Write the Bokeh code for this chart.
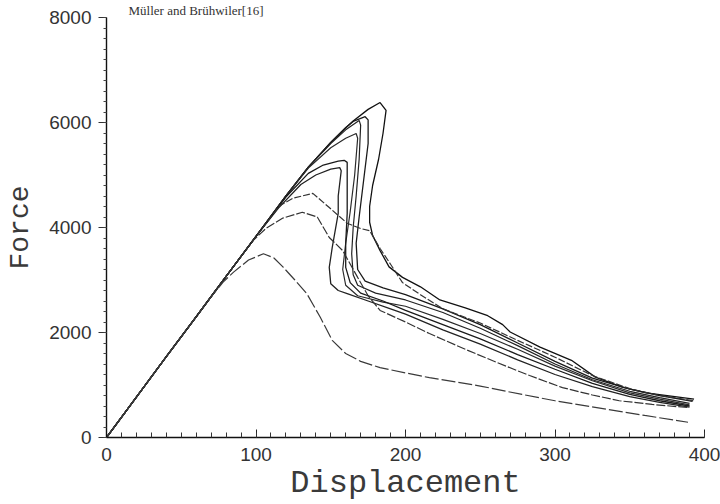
from bokeh.plotting import figure
from bokeh.models import Range1d, FixedTicker
from bokeh.embed import file_html
from bokeh.resources import INLINE

# ---- data ----
c1_x = [0, 20, 40, 60, 80, 100, 120, 135, 150, 160, 165, 175, 183, 187, 185, 182, 178, 176, 176, 178, 183, 189, 198, 210, 223, 240, 255, 265, 270, 290, 311, 327, 345, 361, 393]
c1_f = [0, 770, 1540, 2300, 3070, 3830, 4600, 5150, 5620, 5900, 6030, 6250, 6380, 6230, 5800, 5300, 4800, 4400, 4100, 3850, 3560, 3250, 3050, 2870, 2620, 2470, 2320, 2150, 2010, 1720, 1470, 1150, 960, 850, 730]

c2_x = [0, 20, 40, 60, 80, 100, 120, 135, 150, 160, 165, 173, 175, 175, 172, 169, 167, 168, 173, 185, 200, 225, 250, 275, 300, 325, 350, 370, 392]
c2_f = [0, 770, 1540, 2300, 3070, 3830, 4600, 5150, 5620, 5900, 6020, 6110, 6050, 5600, 4900, 4200, 3700, 3200, 2980, 2850, 2720, 2450, 2150, 1800, 1450, 1130, 920, 800, 690]

c3_x = [0, 20, 40, 60, 80, 100, 120, 135, 150, 160, 169, 170, 169, 167, 165, 164, 165, 168, 180, 200, 225, 250, 275, 300, 325, 350, 370, 390]
c3_f = [0, 770, 1540, 2300, 3070, 3830, 4600, 5150, 5600, 5860, 6040, 5950, 5300, 4600, 4000, 3500, 3100, 2900, 2750, 2620, 2380, 2080, 1750, 1400, 1100, 880, 760, 650]

c4_x = [0, 20, 40, 60, 80, 100, 120, 135, 150, 160, 167, 168, 166, 163, 160, 158, 160, 168, 185, 200, 225, 250, 275, 300, 325, 350, 370, 390]
c4_f = [0, 770, 1540, 2300, 3070, 3830, 4600, 5130, 5520, 5700, 5790, 5700, 5000, 4300, 3700, 3200, 2900, 2700, 2580, 2500, 2250, 1980, 1680, 1360, 1080, 850, 730, 620]

c5_x = [0, 20, 40, 60, 80, 100, 120, 135, 145, 155, 159, 161, 161, 161, 160, 160, 163, 170, 185, 200, 225, 250, 275, 300, 325, 350, 370, 390]
c5_f = [0, 770, 1540, 2300, 3070, 3830, 4580, 5030, 5190, 5265, 5280, 5240, 4800, 4270, 3700, 3240, 2950, 2750, 2600, 2420, 2150, 1880, 1580, 1300, 1030, 820, 700, 600]

c6_x = [0, 20, 40, 60, 80, 100, 115, 130, 140, 150, 156, 157, 155, 155, 151, 149, 150, 155, 161, 175, 190, 200, 225, 250, 275, 300, 325, 350, 370, 390]
c6_f = [0, 770, 1540, 2300, 3070, 3830, 4370, 4820, 5000, 5110, 5140, 5080, 4600, 4270, 3620, 3240, 2930, 2800, 2740, 2600, 2450, 2350, 2050, 1780, 1480, 1200, 970, 780, 670, 580]

c7_x = [0, 20, 40, 60, 80, 100, 116, 125, 138, 149, 161, 170, 176, 183, 190, 198, 210, 225, 250, 275, 300, 325, 350, 370, 393]
c7_f = [0, 770, 1540, 2300, 3070, 3830, 4420, 4560, 4650, 4380, 4080, 3980, 3940, 3600, 3300, 2950, 2720, 2450, 2180, 1850, 1530, 1180, 930, 800, 700]

c8_x = [0, 20, 40, 60, 80, 98, 107, 118, 131, 141, 149, 158, 168, 175, 183, 200, 216, 240, 261, 283, 305, 325, 343, 365, 389]
c8_f = [0, 770, 1540, 2300, 3070, 3750, 3990, 4180, 4290, 4200, 3810, 3560, 3050, 2700, 2420, 2200, 1980, 1680, 1430, 1180, 950, 810, 700, 630, 570]

c9_x = [0, 20, 40, 60, 70, 78, 85, 95, 105, 112, 118, 126, 134, 143, 151, 160, 170, 183, 200, 216, 250, 278, 300, 330, 360, 389]
c9_f = [0, 770, 1540, 2300, 2680, 2960, 3150, 3380, 3500, 3420, 3250, 3000, 2740, 2290, 1850, 1600, 1450, 1330, 1230, 1140, 980, 820, 700, 560, 420, 290]

x_ticks = [0, 100, 200, 300, 400]
y_ticks = [0, 2000, 4000, 6000, 8000]
title_text = "Müller and Brühwiler[16]"
x_label = "Displacement"
y_label = "Force"

# ---- figure ----
p = figure(width=720, height=504, x_range=Range1d(0, 400), y_range=Range1d(0, 8000),
           output_backend="svg", toolbar_location=None, title=title_text,
           min_border_left=106, min_border_right=16, min_border_top=17, min_border_bottom=67)
p.outline_line_color = None
p.grid.visible = False
p.background_fill_color = "white"
p.border_fill_color = "white"

p.title.text_font = "Liberation Serif"
p.title.text_font_size = "13px"
p.title.text_font_style = "normal"
p.title.text_color = "#333333"
p.title.align = "left"
p.title.offset = 22
p.title.standoff = 0
p.title.vertical_align = "bottom"

curves = [
    (c1_x, c1_f, "#111111", "solid", 1.3),
    (c2_x, c2_f, "#1a1a1a", "solid", 1.3),
    (c3_x, c3_f, "#222222", "solid", 1.2),
    (c4_x, c4_f, "#2a2a2a", "solid", 1.2),
    (c5_x, c5_f, "#1a1a1a", "solid", 1.3),
    (c6_x, c6_f, "#222222", "solid", 1.3),
    (c7_x, c7_f, "#333333", "7 2", 1.2),
    (c8_x, c8_f, "#333333", "9 2", 1.2),
    (c9_x, c9_f, "#3a3a3a", "14 3", 1.2),
]
for xs, fs, col, dash, w in curves:
    p.line(xs, fs, line_color=col, line_width=w, line_dash=dash)

# axes
xa = p.xaxis[0]
xa.ticker = FixedTicker(ticks=x_ticks, minor_ticks=list(range(0, 401, 10)))
xa.axis_line_color = "#111111"
xa.axis_line_width = 1.4
xa.major_tick_in = 8
xa.major_tick_out = 0
xa.minor_tick_in = 5
xa.minor_tick_out = 0
xa.major_tick_line_color = "#222222"
xa.minor_tick_line_color = "#333333"
xa.major_label_standoff = 10
xa.major_label_text_font = "Liberation Sans"
xa.major_label_text_font_size = "19px"
xa.major_label_text_color = "#333333"
xa.axis_label = x_label
xa.axis_label_text_font = "Liberation Mono"
xa.axis_label_text_font_style = "normal"
xa.axis_label_text_font_size = "32px"
xa.axis_label_text_color = "#3a3a3a"
xa.axis_label_standoff = 1

ya = p.yaxis[0]
ya.ticker = FixedTicker(ticks=y_ticks, minor_ticks=list(range(0, 8001, 200)))
ya.axis_line_color = "#111111"
ya.axis_line_width = 1.4
ya.major_tick_in = 0
ya.major_tick_out = 8
ya.minor_tick_in = 0
ya.minor_tick_out = 3
ya.major_tick_line_color = "#333333"
ya.minor_tick_line_color = "#444444"
ya.major_label_standoff = 7
ya.major_label_text_font = "Liberation Sans"
ya.major_label_text_font_size = "19px"
ya.major_label_text_color = "#333333"
ya.axis_label = y_label
ya.axis_label_text_font = "Liberation Mono"
ya.axis_label_text_font_style = "normal"
ya.axis_label_text_font_size = "28px"
ya.axis_label_text_color = "#3a3a3a"
ya.axis_label_standoff = 10

open("out.html", "w").write(file_html(p, INLINE))
